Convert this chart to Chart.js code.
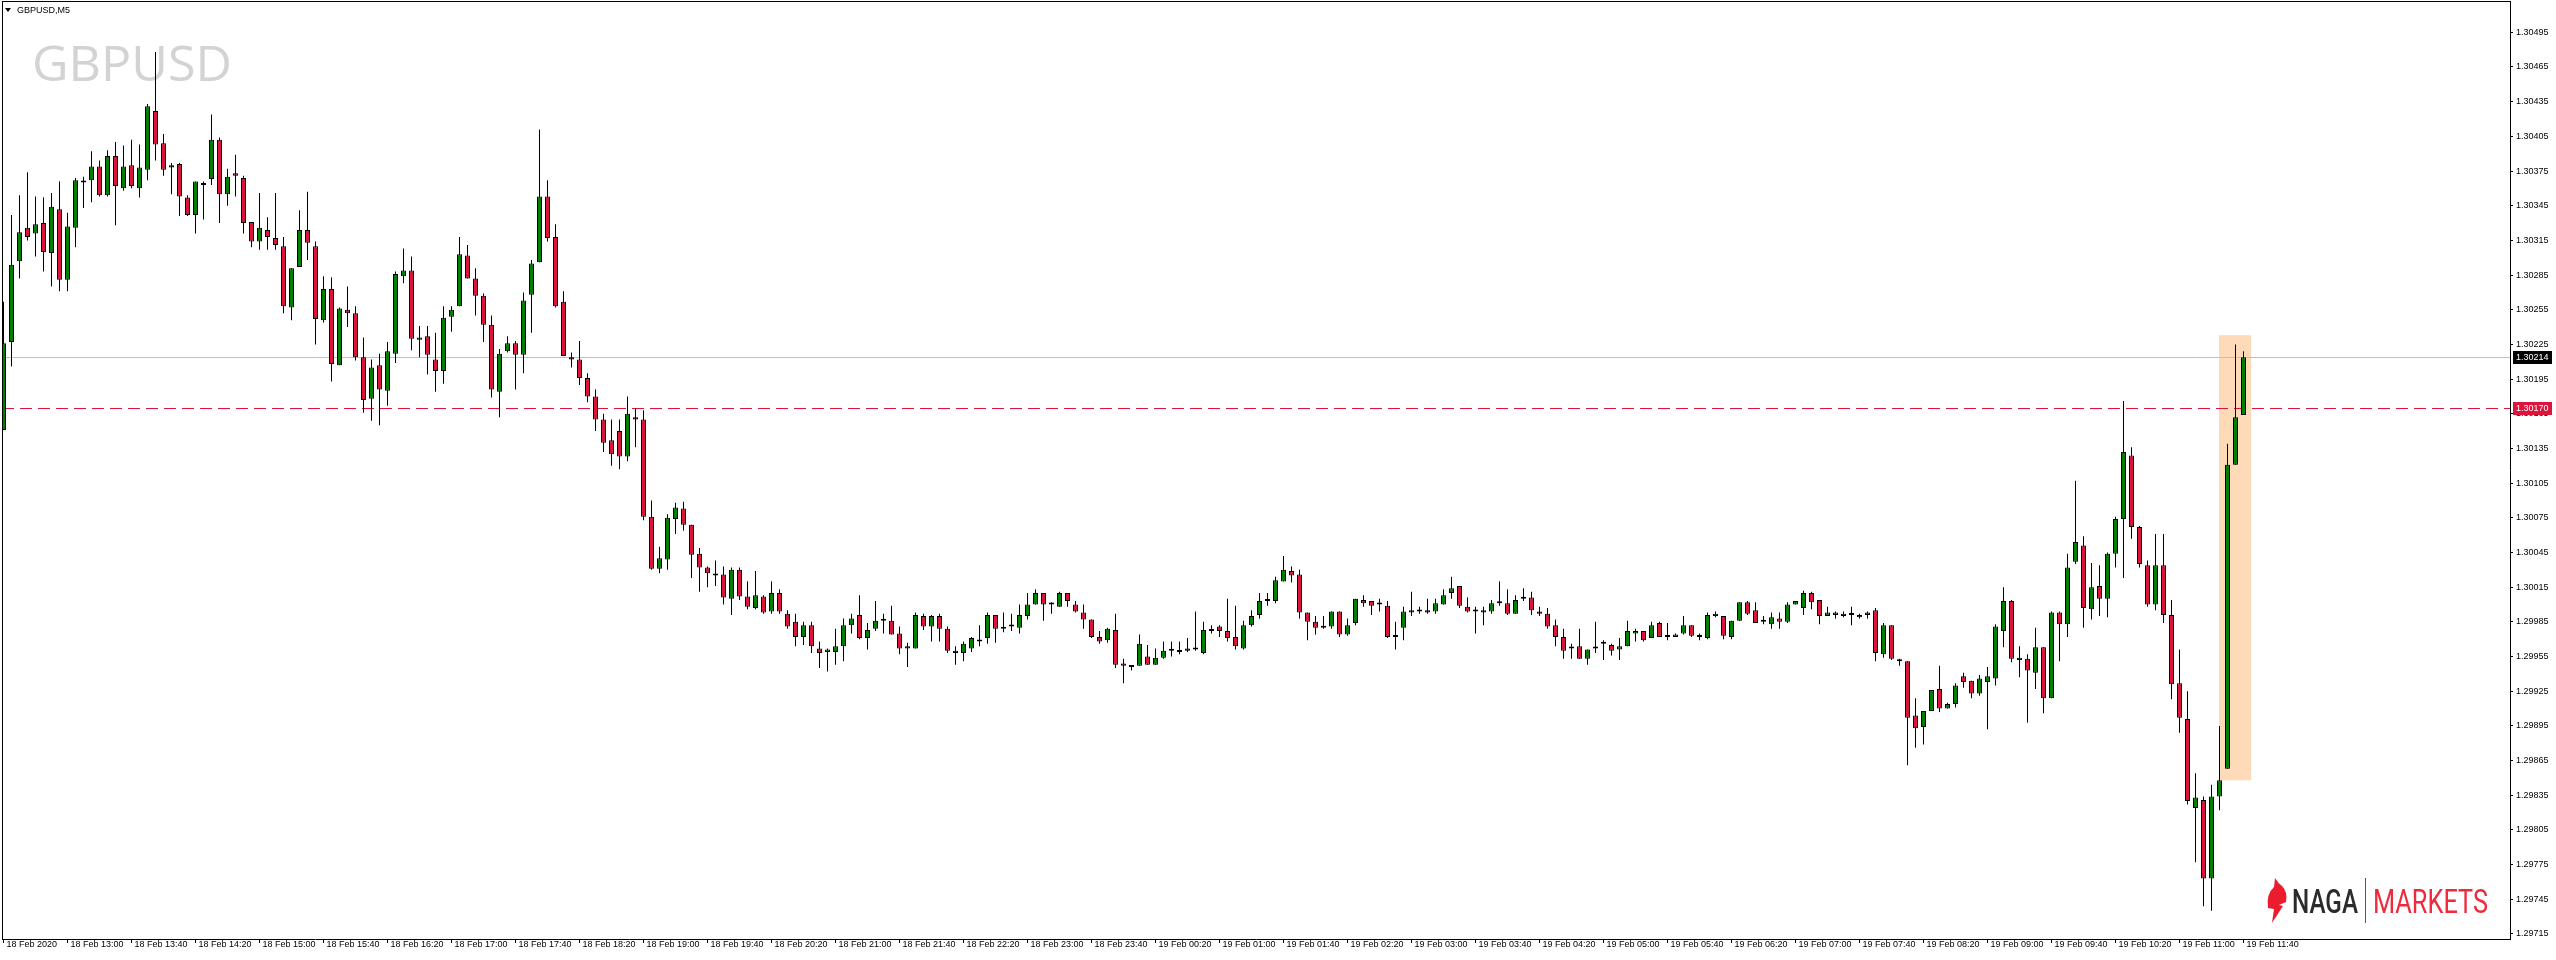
<!DOCTYPE html>
<html>
<head>
<meta charset="utf-8">
<title>GBPUSD,M5</title>
<script src="https://cdn.jsdelivr.net/npm/chart.js@4.4.1/dist/chart.umd.min.js"></script>
<style>
  html, body { margin: 0; padding: 0; background: #fff; }
  canvas { display: block; }
</style>
</head>
<body>
<canvas id="chart" width="2556" height="960"></canvas>
<script>
// GBPUSD M5 bars, 18 Feb 12:20 .. 19 Feb 11:40 (one value per bar)
const opens = [
  1.30151, 1.30227, 1.30297, 1.30326, 1.30321, 1.30330, 1.30304, 1.30342, 1.30281, 1.30326,
  1.30365, 1.30367, 1.30379, 1.30354, 1.30388, 1.30360, 1.30380, 1.30360, 1.30376, 1.30427,
  1.30399, 1.30378, 1.30381, 1.30352, 1.30337, 1.30364, 1.30368, 1.30402, 1.30355, 1.30373,
  1.30369, 1.30331, 1.30314, 1.30324, 1.30317, 1.30310, 1.30257, 1.30292, 1.30324, 1.30310,
  1.30246, 1.30273, 1.30207, 1.30255, 1.30252, 1.30214, 1.30178, 1.30207, 1.30185, 1.30217,
  1.30284, 1.30289, 1.30229, 1.30232, 1.30212, 1.30202, 1.30249, 1.30258, 1.30302, 1.30282,
  1.30267, 1.30242, 1.30184, 1.30219, 1.30226, 1.30216, 1.30268, 1.30296, 1.30353, 1.30318,
  1.30262, 1.30214, 1.30212, 1.30196, 1.30180, 1.30160, 1.30142, 1.30150, 1.30128, 1.30162,
  1.30160, 1.30076, 1.30031, 1.30039, 1.30074, 1.30083, 1.30069, 1.30044, 1.30032, 1.30026,
  1.30026, 1.30005, 1.30030, 1.30007, 1.29997, 1.30007, 1.29994, 1.30010, 1.29992, 1.29985,
  1.29972, 1.29982, 1.29962, 1.29959, 1.29959, 1.29964, 1.29982, 1.29991, 1.29971, 1.29979,
  1.29986, 1.29986, 1.29975, 1.29962, 1.29962, 1.29990, 1.29981, 1.29990, 1.29979, 1.29960,
  1.29958, 1.29962, 1.29968, 1.29971, 1.29991, 1.29980, 1.29981, 1.29980, 1.29990, 1.30000,
  1.30010, 1.30000, 1.29998, 1.30010, 1.30000, 1.29993, 1.29987, 1.29972, 1.29969, 1.29978,
  1.29949, 1.29946, 1.29947, 1.29955, 1.29948, 1.29954, 1.29960, 1.29960, 1.29960, 1.29961,
  1.29958, 1.29977, 1.29981, 1.29977, 1.29972, 1.29962, 1.29982, 1.29991, 1.30003, 1.30003,
  1.30020, 1.30029, 1.30026, 1.29993, 1.29985, 1.29980, 1.29981, 1.29994, 1.29974, 1.29984,
  1.30004, 1.30003, 1.30000, 1.29999, 1.29972, 1.29980, 1.29995, 1.29994, 1.29993, 1.29994,
  1.30000, 1.30010, 1.30016, 1.29998, 1.29994, 1.29993, 1.29994, 1.30001, 1.30001, 1.29992,
  1.30005, 1.30006, 1.29994, 1.29992, 1.29982, 1.29972, 1.29962, 1.29964, 1.29953, 1.29962,
  1.29966, 1.29965, 1.29961, 1.29964, 1.29975, 1.29977, 1.29971, 1.29984, 1.29972, 1.29972,
  1.29975, 1.29982, 1.29972, 1.29971, 1.29990, 1.29990, 1.29972, 1.29986, 1.30002, 1.29995,
  1.29985, 1.29983, 1.29988, 1.29985, 1.30000, 1.29997, 1.30010, 1.30004, 1.29990, 1.29993,
  1.29990, 1.29991, 1.29989, 1.29991, 1.29995, 1.29957, 1.29982, 1.29951, 1.29951, 1.29904,
  1.29894, 1.29908, 1.29927, 1.29910, 1.29914, 1.29938, 1.29934, 1.29923, 1.29933, 1.29936,
  1.29977, 1.30003, 1.29952, 1.29953, 1.29941, 1.29963, 1.29919, 1.29993, 1.29983, 1.30037,
  1.30051, 1.29996, 1.30016, 1.30005, 1.30044, 1.30074, 1.30129, 1.30067, 1.30034, 1.30000,
  1.30034, 1.29991, 1.29932, 1.29901, 1.29824, 1.29831, 1.29763, 1.29834, 1.29858, 1.30121,
  1.30164
];
const highs = [
  1.30262, 1.30337, 1.30354, 1.30374, 1.30353, 1.30352, 1.30356, 1.30366, 1.30339, 1.30369,
  1.30370, 1.30392, 1.30384, 1.30393, 1.30400, 1.30397, 1.30402, 1.30398, 1.30433, 1.30478,
  1.30407, 1.30382, 1.30382, 1.30354, 1.30366, 1.30366, 1.30424, 1.30404, 1.30377, 1.30389,
  1.30371, 1.30331, 1.30356, 1.30335, 1.30356, 1.30318, 1.30291, 1.30341, 1.30357, 1.30314,
  1.30284, 1.30283, 1.30257, 1.30275, 1.30258, 1.30231, 1.30212, 1.30217, 1.30227, 1.30288,
  1.30308, 1.30301, 1.30241, 1.30241, 1.30235, 1.30258, 1.30258, 1.30318, 1.30311, 1.30291,
  1.30269, 1.30250, 1.30221, 1.30232, 1.30228, 1.30270, 1.30298, 1.30411, 1.30367, 1.30329,
  1.30271, 1.30218, 1.30228, 1.30200, 1.30186, 1.30165, 1.30160, 1.30160, 1.30180, 1.30170,
  1.30168, 1.30090, 1.30050, 1.30078, 1.30088, 1.30089, 1.30069, 1.30049, 1.30033, 1.30038,
  1.30033, 1.30032, 1.30032, 1.30020, 1.30029, 1.30008, 1.30020, 1.30013, 1.29995, 1.29992,
  1.29985, 1.29985, 1.29968, 1.29962, 1.29979, 1.29988, 1.29992, 1.30008, 1.29984, 1.30003,
  1.29992, 1.29999, 1.29981, 1.29967, 1.29993, 1.29992, 1.29991, 1.29992, 1.29981, 1.29964,
  1.29968, 1.29972, 1.29982, 1.29993, 1.29991, 1.29993, 1.29992, 1.30000, 1.30010, 1.30013,
  1.30010, 1.30002, 1.30011, 1.30010, 1.30003, 1.30000, 1.29987, 1.29977, 1.29980, 1.29992,
  1.29953, 1.29947, 1.29974, 1.29965, 1.29962, 1.29968, 1.29968, 1.29968, 1.29971, 1.29994,
  1.29985, 1.29982, 1.29982, 1.30005, 1.29999, 1.29986, 1.29995, 1.30010, 1.30010, 1.30024,
  1.30042, 1.30033, 1.30030, 1.29993, 1.29990, 1.29990, 1.29994, 1.29994, 1.29988, 1.30005,
  1.30008, 1.30003, 1.30005, 1.30003, 1.29985, 1.29998, 1.30011, 1.29998, 1.30005, 1.30005,
  1.30013, 1.30024, 1.30016, 1.30006, 1.29998, 1.29998, 1.30004, 1.30020, 1.30013, 1.30008,
  1.30014, 1.30011, 1.29998, 1.29997, 1.29987, 1.29979, 1.29966, 1.29979, 1.29961, 1.29985,
  1.29969, 1.29966, 1.29971, 1.29986, 1.29979, 1.29977, 1.29985, 1.29985, 1.29984, 1.29975,
  1.29990, 1.29982, 1.29975, 1.29993, 1.29994, 1.29990, 1.29986, 1.30002, 1.30003, 1.30002,
  1.29990, 1.29993, 1.29993, 1.30002, 1.30003, 1.30012, 1.30011, 1.30004, 1.29998, 1.29994,
  1.29994, 1.29998, 1.29992, 1.29994, 1.29997, 1.29984, 1.29982, 1.29953, 1.29951, 1.29919,
  1.29908, 1.29926, 1.29947, 1.29915, 1.29932, 1.29941, 1.29934, 1.29939, 1.29946, 1.29983,
  1.30015, 1.30004, 1.29964, 1.29957, 1.29980, 1.29963, 1.29994, 1.29994, 1.30044, 1.30107,
  1.30059, 1.30036, 1.30034, 1.30045, 1.30076, 1.30176, 1.30136, 1.30068, 1.30038, 1.30061,
  1.30061, 1.30004, 1.29961, 1.29925, 1.29854, 1.29834, 1.29844, 1.29895, 1.30139, 1.30225,
  1.30219
];
const lows = [
  1.30151, 1.30206, 1.30282, 1.30315, 1.30301, 1.30288, 1.30275, 1.30271, 1.30271, 1.30309,
  1.30343, 1.30348, 1.30353, 1.30353, 1.30328, 1.30358, 1.30360, 1.30352, 1.30367, 1.30384,
  1.30371, 1.30355, 1.30336, 1.30336, 1.30321, 1.30333, 1.30363, 1.30330, 1.30345, 1.30353,
  1.30321, 1.30309, 1.30307, 1.30307, 1.30307, 1.30252, 1.30246, 1.30292, 1.30298, 1.30225,
  1.30244, 1.30193, 1.30207, 1.30240, 1.30211, 1.30166, 1.30159, 1.30155, 1.30172, 1.30209,
  1.30278, 1.30220, 1.30214, 1.30199, 1.30184, 1.30191, 1.30236, 1.30258, 1.30282, 1.30250,
  1.30227, 1.30179, 1.30162, 1.30218, 1.30186, 1.30200, 1.30235, 1.30296, 1.30314, 1.30257,
  1.30215, 1.30205, 1.30190, 1.30175, 1.30150, 1.30132, 1.30120, 1.30117, 1.30124, 1.30136,
  1.30073, 1.30030, 1.30027, 1.30030, 1.30061, 1.30064, 1.30023, 1.30011, 1.30015, 1.30016,
  1.30000, 1.29991, 1.30004, 1.29996, 1.29996, 1.29992, 1.29992, 1.29992, 1.29979, 1.29964,
  1.29965, 1.29958, 1.29945, 1.29942, 1.29948, 1.29951, 1.29975, 1.29970, 1.29961, 1.29977,
  1.29975, 1.29974, 1.29957, 1.29946, 1.29962, 1.29978, 1.29968, 1.29968, 1.29958, 1.29948,
  1.29951, 1.29959, 1.29964, 1.29966, 1.29967, 1.29976, 1.29977, 1.29975, 1.29987, 1.30000,
  1.29986, 1.29992, 1.29998, 1.29998, 1.29993, 1.29979, 1.29971, 1.29966, 1.29967, 1.29945,
  1.29932, 1.29943, 1.29947, 1.29948, 1.29948, 1.29953, 1.29955, 1.29957, 1.29959, 1.29960,
  1.29957, 1.29975, 1.29972, 1.29968, 1.29961, 1.29961, 1.29981, 1.29988, 1.29999, 1.30001,
  1.30020, 1.30019, 1.29988, 1.29969, 1.29974, 1.29979, 1.29979, 1.29972, 1.29973, 1.29982,
  1.29998, 1.29991, 1.29994, 1.29971, 1.29961, 1.29969, 1.29990, 1.29992, 1.29992, 1.29992,
  1.30000, 1.30005, 1.29997, 1.29993, 1.29975, 1.29982, 1.29992, 1.29999, 1.29991, 1.29992,
  1.30003, 1.29991, 1.29990, 1.29979, 1.29964, 1.29953, 1.29953, 1.29953, 1.29948, 1.29958,
  1.29952, 1.29956, 1.29952, 1.29964, 1.29968, 1.29968, 1.29971, 1.29972, 1.29969, 1.29972,
  1.29974, 1.29972, 1.29969, 1.29970, 1.29989, 1.29970, 1.29970, 1.29986, 1.29991, 1.29984,
  1.29983, 1.29979, 1.29979, 1.29984, 1.30000, 1.29991, 1.29996, 1.29983, 1.29990, 1.29988,
  1.29989, 1.29982, 1.29988, 1.29988, 1.29951, 1.29954, 1.29952, 1.29947, 1.29861, 1.29876,
  1.29879, 1.29908, 1.29907, 1.29910, 1.29911, 1.29928, 1.29919, 1.29921, 1.29892, 1.29930,
  1.29963, 1.29950, 1.29937, 1.29898, 1.29927, 1.29906, 1.29919, 1.29951, 1.29972, 1.30035,
  1.29980, 1.29987, 1.29990, 1.29989, 1.30032, 1.30023, 1.30057, 1.30032, 1.29998, 1.29995,
  1.29984, 1.29918, 1.29889, 1.29827, 1.29777, 1.29739, 1.29735, 1.29822, 1.29858, 1.30121,
  1.30164
];
const closes = [
  1.30226, 1.30294, 1.30322, 1.30318, 1.30329, 1.30305, 1.30344, 1.30281, 1.30327, 1.30367,
  1.30366, 1.30379, 1.30354, 1.30388, 1.30362, 1.30379, 1.30362, 1.30378, 1.30431, 1.30398,
  1.30376, 1.30380, 1.30353, 1.30337, 1.30366, 1.30363, 1.30402, 1.30355, 1.30370, 1.30371,
  1.30330, 1.30314, 1.30326, 1.30318, 1.30311, 1.30258, 1.30291, 1.30324, 1.30313, 1.30247,
  1.30273, 1.30208, 1.30256, 1.30252, 1.30214, 1.30177, 1.30205, 1.30186, 1.30219, 1.30286,
  1.30289, 1.30230, 1.30231, 1.30216, 1.30202, 1.30248, 1.30255, 1.30303, 1.30282, 1.30267,
  1.30242, 1.30186, 1.30217, 1.30226, 1.30216, 1.30263, 1.30295, 1.30353, 1.30317, 1.30258,
  1.30215, 1.30212, 1.30196, 1.30180, 1.30160, 1.30140, 1.30130, 1.30128, 1.30165, 1.30160,
  1.30076, 1.30031, 1.30040, 1.30075, 1.30084, 1.30069, 1.30043, 1.30032, 1.30027, 1.30025,
  1.30006, 1.30030, 1.30007, 1.29998, 1.30008, 1.29993, 1.30010, 1.29994, 1.29981, 1.29972,
  1.29982, 1.29964, 1.29958, 1.29961, 1.29964, 1.29982, 1.29988, 1.29971, 1.29978, 1.29986,
  1.29986, 1.29974, 1.29962, 1.29964, 1.29991, 1.29981, 1.29990, 1.29979, 1.29960, 1.29958,
  1.29966, 1.29971, 1.29969, 1.29991, 1.29979, 1.29979, 1.29981, 1.29991, 1.30000, 1.30010,
  1.30000, 1.30000, 1.30010, 1.30003, 1.29994, 1.29987, 1.29972, 1.29968, 1.29979, 1.29948,
  1.29947, 1.29946, 1.29966, 1.29948, 1.29954, 1.29960, 1.29960, 1.29959, 1.29962, 1.29961,
  1.29978, 1.29977, 1.29977, 1.29971, 1.29964, 1.29982, 1.29990, 1.30003, 1.30003, 1.30021,
  1.30030, 1.30025, 1.29993, 1.29985, 1.29980, 1.29980, 1.29994, 1.29974, 1.29982, 1.30005,
  1.30001, 1.29999, 1.30000, 1.29972, 1.29972, 1.29994, 1.29993, 1.29994, 1.29995, 1.30001,
  1.30008, 1.30014, 1.29999, 1.29994, 1.29994, 1.29995, 1.30001, 1.30001, 1.29992, 1.30004,
  1.30006, 1.29995, 1.29992, 1.29981, 1.29972, 1.29960, 1.29962, 1.29953, 1.29961, 1.29962,
  1.29966, 1.29960, 1.29964, 1.29977, 1.29977, 1.29969, 1.29982, 1.29972, 1.29972, 1.29974,
  1.29982, 1.29973, 1.29972, 1.29991, 1.29992, 1.29973, 1.29986, 1.30002, 1.29992, 1.29984,
  1.29985, 1.29989, 1.29985, 1.30000, 1.30003, 1.30010, 1.30002, 1.29990, 1.29993, 1.29991,
  1.29992, 1.29991, 1.29991, 1.29993, 1.29958, 1.29982, 1.29953, 1.29951, 1.29902, 1.29893,
  1.29908, 1.29926, 1.29910, 1.29914, 1.29930, 1.29933, 1.29923, 1.29936, 1.29938, 1.29981,
  1.30003, 1.29953, 1.29954, 1.29943, 1.29963, 1.29919, 1.29993, 1.29983, 1.30032, 1.30054,
  1.29997, 1.30015, 1.30005, 1.30044, 1.30074, 1.30132, 1.30067, 1.30035, 1.30000, 1.30034,
  1.29991, 1.29931, 1.29902, 1.29830, 1.29833, 1.29763, 1.29834, 1.29848, 1.30121, 1.30162,
  1.30214
];

// one time label every 8 bars (40 minutes)
const timeLabels = [
  '18 Feb 2020', '18 Feb 13:00', '18 Feb 13:40', '18 Feb 14:20', '18 Feb 15:00', '18 Feb 15:40',
  '18 Feb 16:20', '18 Feb 17:00', '18 Feb 17:40', '18 Feb 18:20', '18 Feb 19:00', '18 Feb 19:40',
  '18 Feb 20:20', '18 Feb 21:00', '18 Feb 21:40', '18 Feb 22:20', '18 Feb 23:00', '18 Feb 23:40',
  '19 Feb 00:20', '19 Feb 01:00', '19 Feb 01:40', '19 Feb 02:20', '19 Feb 03:00', '19 Feb 03:40',
  '19 Feb 04:20', '19 Feb 05:00', '19 Feb 05:40', '19 Feb 06:20', '19 Feb 07:00', '19 Feb 07:40',
  '19 Feb 08:20', '19 Feb 09:00', '19 Feb 09:40', '19 Feb 10:20', '19 Feb 11:00', '19 Feb 11:40'
];
const barsPerLabel = 8;

const priceTicks = [
  1.29715, 1.29745, 1.29775, 1.29805, 1.29835, 1.29865, 1.29895, 1.29925, 1.29955,
  1.29985, 1.30015, 1.30045, 1.30075, 1.30105, 1.30135, 1.30165, 1.30195, 1.30225,
  1.30255, 1.30285, 1.30315, 1.30345, 1.30375, 1.30405, 1.30435, 1.30465, 1.30495
];

const lastPrice = 1.30214;
const alertPrice = 1.30170;
// highlighted zone (bar index range and price range)
const zoneBars = [277, 281];
const zonePrices = [1.29848, 1.30233];

const BULL = '#008000';
const BEAR = '#DC143C';
const TEXT_FONT = '"Liberation Sans", Arial, sans-serif';

// view window: 8 px per bar, empty shift on the right like the terminal
const X_MIN = -0.1875, X_MAX = 313.3125;
const Y_MIN = 1.2971066, Y_MAX = 1.3052208;

const wickData = highs.map(function(h, i) { return { x: i, y: [lows[i], h] }; });
const bodyData = opens.map(function(o, i) {
  return { x: i, y: [Math.min(o, closes[i]), Math.max(o, closes[i])] };
});
const bodyColors = opens.map(function(o, i) { return closes[i] >= o ? BULL : BEAR; });

function drawPriceTag(ctx, y, text, bg) {
  const cy = Math.round(y);
  ctx.fillStyle = bg;
  ctx.fillRect(2513, cy - 6, 39, 13);
  ctx.fillStyle = '#ffffff';
  ctx.font = '9px ' + TEXT_FONT;
  ctx.textAlign = 'left';
  ctx.textBaseline = 'middle';
  ctx.fillText(text, 2516, cy + 0.5);
}

function fitText(ctx, text, x, baseline, width, font, color) {
  ctx.font = font;
  const w = ctx.measureText(text).width;
  ctx.save();
  ctx.translate(x, baseline);
  ctx.scale(width / w, 1);
  ctx.fillStyle = color;
  ctx.textAlign = 'left';
  ctx.textBaseline = 'alphabetic';
  ctx.fillText(text, 0, 0);
  ctx.restore();
}

function drawLogo(ctx) {
  const x0 = 2267, y0 = 878;
  ctx.fillStyle = '#EC1C2E';
  ctx.beginPath();
  ctx.moveTo(x0 + 8, y0);
  ctx.quadraticCurveTo(x0 + 11, y0 + 5, x0 + 15, y0 + 8);
  ctx.quadraticCurveTo(x0 + 21, y0 + 14, x0 + 19, y0 + 24);
  ctx.lineTo(x0 + 12, y0 + 27);
  ctx.lineTo(x0 + 16, y0 + 28);
  ctx.lineTo(x0 + 5, y0 + 45);
  ctx.lineTo(x0 + 7, y0 + 31);
  ctx.lineTo(x0 + 1, y0 + 30);
  ctx.quadraticCurveTo(x0 - 1, y0 + 16, x0 + 7, y0 + 9);
  ctx.closePath();
  ctx.fill();
  fitText(ctx, 'NAGA', 2292, 913, 66, '500 34px Roboto', '#2B2B2B');
  ctx.fillStyle = '#555555';
  ctx.fillRect(2365, 878, 1, 45);
  fitText(ctx, 'MARKETS', 2373, 913, 115, '34px Roboto', '#EE2A3C');
}

const overlays = {
  id: 'overlays',
  beforeDatasetsDraw: function(chart) {
    const ctx = chart.ctx;
    const a = chart.chartArea;
    const xs = chart.scales.x, ys = chart.scales.y;
    ctx.save();
    // symbol watermark
    fitText(ctx, 'GBPUSD', 32, 81, 200, '49px "Open Sans"', '#D3D3D3');
    // highlighted zone
    const zx1 = xs.getPixelForValue(zoneBars[0]) - 0.5;
    const zx2 = xs.getPixelForValue(zoneBars[1]) - 0.5;
    const zy1 = ys.getPixelForValue(zonePrices[1]);
    const zy2 = ys.getPixelForValue(zonePrices[0]);
    ctx.fillStyle = '#FFDAB9';
    ctx.fillRect(zx1, zy1, zx2 - zx1, zy2 - zy1);
    // last price line
    const ly = Math.round(ys.getPixelForValue(lastPrice)) + 0.5;
    ctx.strokeStyle = '#C0C0C0';
    ctx.lineWidth = 1;
    ctx.beginPath();
    ctx.moveTo(a.left, ly);
    ctx.lineTo(a.right, ly);
    ctx.stroke();
    // alert level
    const ay = Math.round(ys.getPixelForValue(alertPrice)) + 0.5;
    ctx.strokeStyle = BEAR;
    ctx.setLineDash([12, 6]);
    ctx.beginPath();
    ctx.moveTo(a.left, ay);
    ctx.lineTo(a.right, ay);
    ctx.stroke();
    ctx.restore();
  },
  afterDraw: function(chart) {
    const ctx = chart.ctx;
    const a = chart.chartArea;
    const ys = chart.scales.y;
    ctx.save();
    // frame top and left
    ctx.fillStyle = '#000000';
    ctx.fillRect(a.left, a.top, a.right - a.left, 1);
    ctx.fillRect(a.left, a.top, 1, a.bottom - a.top);
    // title
    ctx.beginPath();
    ctx.moveTo(5, 8);
    ctx.lineTo(11, 8);
    ctx.lineTo(8, 12);
    ctx.closePath();
    ctx.fill();
    ctx.font = '9px ' + TEXT_FONT;
    ctx.textAlign = 'left';
    ctx.textBaseline = 'middle';
    ctx.fillText('GBPUSD,M5', 17, 10.5);
    // axis price tags
    drawPriceTag(ctx, ys.getPixelForValue(lastPrice), lastPrice.toFixed(5), '#000000');
    drawPriceTag(ctx, ys.getPixelForValue(alertPrice), alertPrice.toFixed(5), BEAR);
    drawLogo(ctx);
    ctx.restore();
  }
};

new Chart(document.getElementById('chart'), {
  type: 'bar',
  data: {
    datasets: [
      {
        label: 'body',
        data: bodyData,
        order: 0,
        grouped: false,
        barThickness: 5,
        minBarLength: 2,
        backgroundColor: bodyColors,
        borderColor: '#000000',
        borderWidth: 1,
        borderSkipped: false,
        inflateAmount: 0
      },
      {
        label: 'wick',
        data: wickData,
        order: 1,
        grouped: false,
        barThickness: 1,
        backgroundColor: '#000000',
        borderWidth: 0,
        inflateAmount: 0
      }
    ]
  },
  options: {
    responsive: false,
    devicePixelRatio: 1,
    animation: false,
    events: [],
    layout: { padding: { left: 2, top: 1, right: 0, bottom: 0 } },
    plugins: { legend: { display: false }, tooltip: { enabled: false } },
    scales: {
      x: {
        type: 'linear',
        min: X_MIN,
        max: X_MAX,
        offset: false,
        afterBuildTicks: function(s) {
          s.ticks = timeLabels.map(function(_, k) { return { value: k * barsPerLabel }; });
        },
        afterFit: function(s) {
          s.height = 21;
          s.paddingLeft = 0;
          s.paddingRight = 0;
        },
        grid: { offset: false, drawOnChartArea: false, drawTicks: true, tickLength: 4, color: '#000000' },
        border: { display: true, color: '#000000' },
        ticks: {
          autoSkip: false,
          maxRotation: 0,
          minRotation: 0,
          align: 'start',
          labelOffset: 3,
          padding: -4,
          color: '#000000',
          font: { family: TEXT_FONT, size: 9 },
          callback: function(v, k) { return timeLabels[k]; }
        }
      },
      y: {
        position: 'right',
        min: Y_MIN,
        max: Y_MAX,
        afterBuildTicks: function(s) {
          s.ticks = priceTicks.map(function(v) { return { value: v }; });
        },
        afterFit: function(s) {
          s.width = 46;
          s.paddingTop = 0;
          s.paddingBottom = 0;
        },
        grid: { drawOnChartArea: false, drawTicks: true, tickLength: 3, color: '#000000' },
        border: { display: true, color: '#000000' },
        ticks: {
          autoSkip: false,
          padding: 3,
          color: '#000000',
          font: { family: TEXT_FONT, size: 9 },
          callback: function(v) { return v.toFixed(5); }
        }
      }
    }
  },
  plugins: [overlays]
});
</script>
</body>
</html>
